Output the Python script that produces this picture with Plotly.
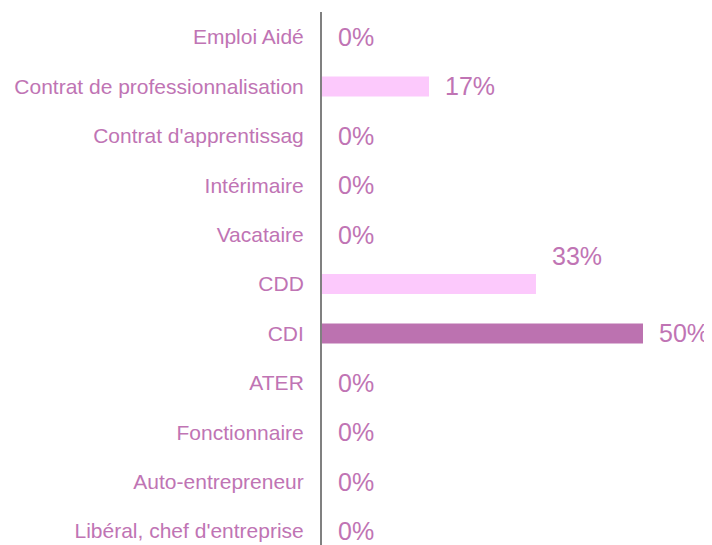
import plotly.graph_objects as go

categories = ["Emploi Aidé", "Contrat de professionnalisation", "Contrat d'apprentissag",
              "Intérimaire", "Vacataire", "CDD", "CDI", "ATER", "Fonctionnaire",
              "Auto-entrepreneur", "Libéral, chef d'entreprise"]
values = [0, 16.67, 0, 0, 0, 33.33, 50, 0, 0, 0, 0]
labels = ["0%", "17%", "0%", "0%", "0%", "33%", "50%", "0%", "0%", "0%", "0%"]
label_lift = [0, 0, 0, 0, 0, 28, 0, 0, 0, 0, 0]

LIGHT = "#FCC9FC"
DARK = "#BC72B0"
TXT = "#C074B4"
colors = [DARK if v == max(values) else LIGHT for v in values]
ypos = list(range(len(categories)))

fig = go.Figure(go.Bar(
    x=values, y=ypos, orientation="h", marker=dict(color=colors, line=dict(width=0)),
    width=0.405, hoverinfo="skip"))

for v, y, t, lift in zip(values, ypos, labels, label_lift):
    fig.add_annotation(x=v, y=y, xref="x", yref="y", text=t, showarrow=False,
                       xanchor="left", yanchor="middle", xshift=14, yshift=lift,
                       font=dict(family="Liberation Sans, Arial", size=25, color=TXT))

fig.update_layout(
    width=704, height=537,
    margin=dict(l=314, r=0, t=4, b=0),
    plot_bgcolor="white", paper_bgcolor="white",
    showlegend=False,
    font=dict(family="Liberation Sans, Arial", color=TXT),
)
fig.update_xaxes(range=[0, 60.75], visible=False, showgrid=False, zeroline=False)
fig.update_yaxes(range=[10.283, -0.506], tickvals=ypos, ticktext=categories,
                 showgrid=False, zeroline=False, showline=True, linecolor="#808080",
                 linewidth=2, ticks="", ticklabelstandoff=12,
                 tickfont=dict(family="Liberation Sans, Arial", size=21, color=TXT))

fig.write_html("out.html")
